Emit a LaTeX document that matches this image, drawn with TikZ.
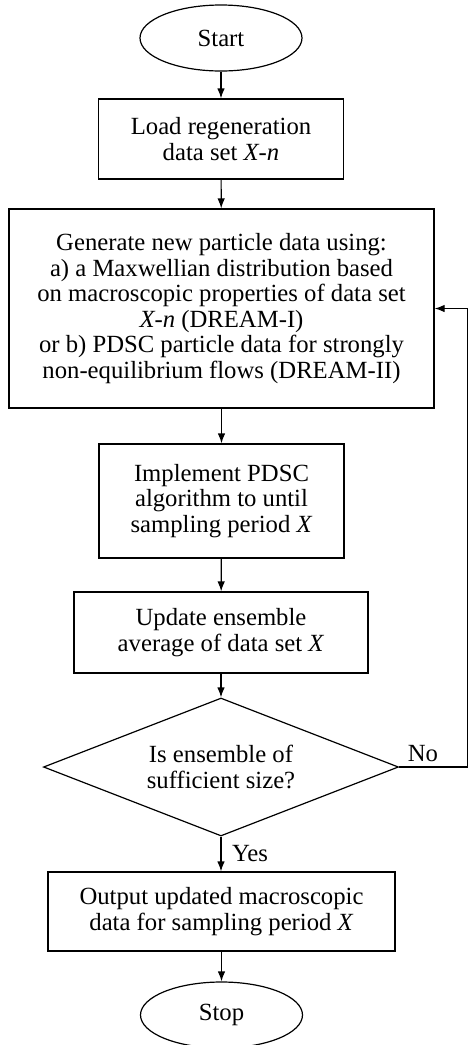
\documentclass[tikz,border=0pt]{standalone}
\usepackage{fontspec}
\setmainfont{Liberation Serif}
\usetikzlibrary{shapes.geometric,arrows.meta}

\begin{document}
\begin{tikzpicture}[x=1pt,y=-1pt,
  every node/.style={font=\fontsize{24.7}{25.5}\selectfont, align=center, inner sep=0pt},
  procbox/.style={draw, line width=1.2pt, rectangle},
  termnode/.style={draw, line width=1.2pt, ellipse, minimum width=162pt, minimum height=66pt},
  decnode/.style={draw, line width=1.2pt, diamond, aspect=2.57, minimum width=355pt, minimum height=138pt},
  flow/.style={line width=1.2pt, -{Latex[length=10pt,width=7.5pt]}},
  lbl/.style={font=\fontsize{24.7}{25.5}\selectfont}]
  \useasboundingbox (0,0) rectangle (469,1045);

  % flow chart nodes
  \node[termnode] (start) at (221,38) {Start};
  \node[procbox, minimum width=245pt, minimum height=80pt] (load) at (221,139)
    {Load regeneration\\data set \textit{X-n}};
  \node[procbox, minimum width=425pt, minimum height=199pt] (gen) at (221.5,308.5)
    {Generate new particle data using:\\
     a) a Maxwellian distribution based\\
     on macroscopic properties of data set\\
     \textit{X-n} (DREAM-I)\\
     or b) PDSC particle data for strongly\\
     non-equilibrium flows (DREAM-II)};
  \node[procbox, minimum width=245pt, minimum height=114pt] (impl) at (221.5,501)
    {Implement PDSC\\algorithm to until\\sampling period \textit{X}};
  \node[procbox, minimum width=294pt, minimum height=81pt] (upd) at (221,632.5)
    {Update ensemble\\average of data set \textit{X}};
  \node[decnode] (dec) at (221,767) {Is ensemble of\\sufficient size?};
  \node[procbox, minimum width=347pt, minimum height=79pt] (out) at (221.5,911.5)
    {Output updated macroscopic\\data for sampling period \textit{X}};
  \node[termnode] (stop) at (221.5,1015) {Stop};

  % connectors
  \draw[flow] (start) -- (load);
  \draw[flow] (load) -- (gen);
  \draw[flow] (gen.south -| impl.north) -- (impl);
  \draw[flow] (impl) -- (upd);
  \draw[flow] (upd.south) -- (dec.north);
  \draw[flow] (dec.south) -- (out.north -| dec.south);
  \draw[flow] (out.south -| stop.north) -- (stop);

  % loop back when the ensemble is too small
  \coordinate (loopA) at (467.5,767);
  \coordinate (loopB) at (467.5,308.5);
  \draw[flow] (dec.east) -- (loopA) -- (loopB) -- (gen.east);

  \node[lbl] (no) at (423,754) {No};
  \node[lbl] (yes) at (250,854) {Yes};
\end{tikzpicture}
\end{document}
